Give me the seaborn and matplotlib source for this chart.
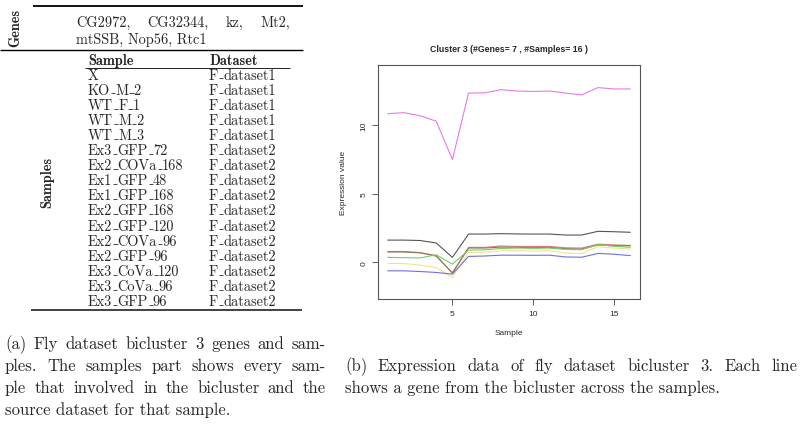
# =========================================
# FLY DATASET BICLUSTER 3 - TABLE + EXPRESSION PLOT
# =========================================

import matplotlib
matplotlib.use("Agg")

import numpy as np
import pandas as pd
import matplotlib.pyplot as plt
import seaborn as sns


# =========================================
# DATA
# =========================================

genes = ["CG2972", "CG32344", "kz", "Mt2", "mtSSB", "Nop56", "Rtc1"]

sample_names = [
    "X", "KO_M_2", "WT_F_1", "WT_M_2", "WT_M_3",
    "Ex3_GFP_72", "Ex2_COVa_168", "Ex1_GFP_48", "Ex1_GFP_168",
    "Ex2_GFP_168", "Ex2_GFP_120", "Ex2_COVa_96", "Ex2_GFP_96",
    "Ex3_CoVa_120", "Ex3_CoVa_96", "Ex3_GFP_96"
]

datasets = ["F_dataset1"] * 5 + ["F_dataset2"] * 11

sample_idx = list(range(1, 17))

line_magenta = [10.85, 10.92, 10.7, 10.3, 7.5, 12.35, 12.37, 12.6,
                12.5, 12.47, 12.5, 12.35, 12.22, 12.75, 12.65, 12.65]
line_gray = [1.63, 1.63, 1.6, 1.42, 0.37, 2.07, 2.07, 2.1,
             2.08, 2.07, 2.07, 2.0, 2.0, 2.27, 2.24, 2.2]
line_red = [0.8, 0.8, 0.72, 0.5, -0.8, 1.1, 1.1, 1.2,
            1.17, 1.17, 1.17, 1.07, 1.05, 1.34, 1.28, 1.24]
line_brown = [0.76, 0.76, 0.7, 0.46, -0.75, 1.05, 1.05, 1.12,
              1.1, 1.08, 1.1, 1.0, 0.98, 1.27, 1.22, 1.22]
line_green = [0.37, 0.35, 0.33, 0.56, -0.12, 0.9, 0.92, 1.02,
              1.05, 1.03, 1.05, 0.95, 0.93, 1.3, 1.18, 1.1]
line_yellow = [-0.07, -0.08, -0.2, -0.37, -1.1, 0.73, 0.75, 0.85,
               0.85, 0.83, 0.85, 0.68, 0.65, 1.15, 1.05, 0.98]
line_blue = [-0.61, -0.61, -0.66, -0.73, -0.85, 0.44, 0.47, 0.53,
             0.53, 0.52, 0.53, 0.4, 0.38, 0.66, 0.6, 0.5]

line_colors = ["#e57ae5", "#555555", "#e07a7a", "#8f7a4f",
               "#6fcf6f", "#f0e48a", "#6f6fe0"]

caption_a = [
    "(a) Fly dataset bicluster 3 genes and sam-",
    "ples.  The samples part shows every sam-",
    "ple that involved in the bicluster and the",
    "source dataset for that sample.",
]
caption_b = [
    "(b) Expression data of fly dataset bicluster 3.  Each line",
    "shows a gene from the bicluster across the samples.",
]


# =========================================
# STYLE
# =========================================

sns.set_theme(style="white")
plt.rcParams["font.family"] = ["Liberation Sans", "DejaVu Sans"]

SERIF = ["cmr10", "DejaVu Serif"]
BOLD = ["cmb10", "DejaVu Serif"]


# =========================================
# FIGURE
# =========================================

fig = plt.figure(figsize=(8, 4.27), dpi=100)

# overlay in pixel coordinates for the table and captions
ov = fig.add_axes([0, 0, 1, 1])
ov.set_xlim(0, 800)
ov.set_ylim(427, 0)
ov.axis("off")


# =========================================
# EXPRESSION PLOT
# =========================================

series = [line_magenta, line_gray, line_red, line_brown,
          line_green, line_yellow, line_blue]

df = pd.DataFrame({
    "Sample": sample_idx * len(series),
    "value": np.concatenate(series),
    "gene": np.repeat(genes, len(sample_idx)),
})

ax = fig.add_axes([0.4725, 0.2963, 0.3275, 0.5492])

sns.lineplot(
    data=df, x="Sample", y="value", hue="gene",
    palette=line_colors, linewidth=0.8, legend=False, ax=ax
)

ax.set_xlim(0.4, 16.6)
ax.set_ylim(-2.7, 14.4)
ax.set_xticks([5, 10, 15])
ax.set_yticks([0, 5, 10])
ax.tick_params(direction="out", length=4.5, width=0.6, color="#444444",
               labelsize=6, pad=3, bottom=True, left=True)
for lab in ax.get_yticklabels():
    lab.set_rotation(90)
    lab.set_va("center")

for sp in ax.spines.values():
    sp.set_color("#555555")
    sp.set_linewidth(0.8)

ax.set_xlabel("Sample", fontsize=6)
ax.set_ylabel("Expression value", fontsize=6)
ax.xaxis.set_label_coords(0.5, -0.125)
ax.yaxis.set_label_coords(-0.118, 0.5)
ax.set_title("Cluster 3 (#Genes= 7 , #Samples= 16 )",
             fontsize=6.3, fontweight="bold", pad=10)


# =========================================
# TABLE
# =========================================

renderer = fig.canvas.get_renderer()


def justify(words, x0, x1, y, size):
    texts = [ov.text(0, y, w, family=SERIF, fontsize=size, va="baseline")
             for w in words]
    widths = [t.get_window_extent(renderer).width for t in texts]
    gap = (x1 - x0 - sum(widths)) / (len(words) - 1)
    x = x0
    for t, w in zip(texts, widths):
        t.set_x(x)
        x += w + gap


def name_text(x, y, s, size):
    # cmr10 has no real underscore, so draw it as a short rule like LaTeX
    em = size * 100 / 72
    parts = s.split("_")
    for k, p in enumerate(parts):
        t = ov.text(x, y, p, family=SERIF, fontsize=size, va="baseline")
        x += t.get_window_extent(renderer).width
        if k < len(parts) - 1:
            x += 0.06 * em
            ov.plot([x, x + 0.3 * em], [y - 0.3, y - 0.3], color="black",
                    lw=0.5, solid_capstyle="butt")
            x += 0.3 * em


TS = 10.3

ov.plot([33, 303], [7, 7], color="black", lw=1.3, solid_capstyle="butt")
ov.text(15, 28, "Genes", rotation=90, family=BOLD, fontsize=TS,
        ha="center", va="center")
justify(["CG2972,", "CG32344,", "kz,", "Mt2,"], 76, 290, 27, TS)
ov.text(76, 44, "mtSSB, Nop56, Rtc1", family=SERIF, fontsize=TS,
        va="baseline")
ov.plot([0, 303], [51, 51], color="black", lw=1.0, solid_capstyle="butt")

ov.text(88, 65, "Sample", family=BOLD, fontsize=TS, va="baseline")
ov.text(209, 65, "Dataset", family=BOLD, fontsize=TS, va="baseline")
ov.plot([85, 290], [69, 69], color="black", lw=0.6, solid_capstyle="butt")

for i, (s, d) in enumerate(zip(sample_names, datasets)):
    yb = 79.6 + 15.1 * i
    name_text(88, yb, s, TS)
    name_text(209, yb, d, TS)

ov.text(47, 182, "Samples", rotation=90, family=BOLD, fontsize=TS,
        ha="center", va="center")
ov.plot([31, 302], [311, 311], color="#333333", lw=1.3,
        solid_capstyle="butt")


# =========================================
# CAPTIONS
# =========================================

CS = 12
for k, line in enumerate(caption_a):
    yb = 349 + 22 * k
    if k < len(caption_a) - 1:
        justify(line.split(), 5, 326, yb, CS)
    else:
        ov.text(5, yb, line, family=SERIF, fontsize=CS, va="baseline")

justify(caption_b[0].split(), 345, 797, 371, CS)
ov.text(345, 393, caption_b[1], family=SERIF, fontsize=CS, va="baseline")


fig.savefig("out.png", dpi=100)
